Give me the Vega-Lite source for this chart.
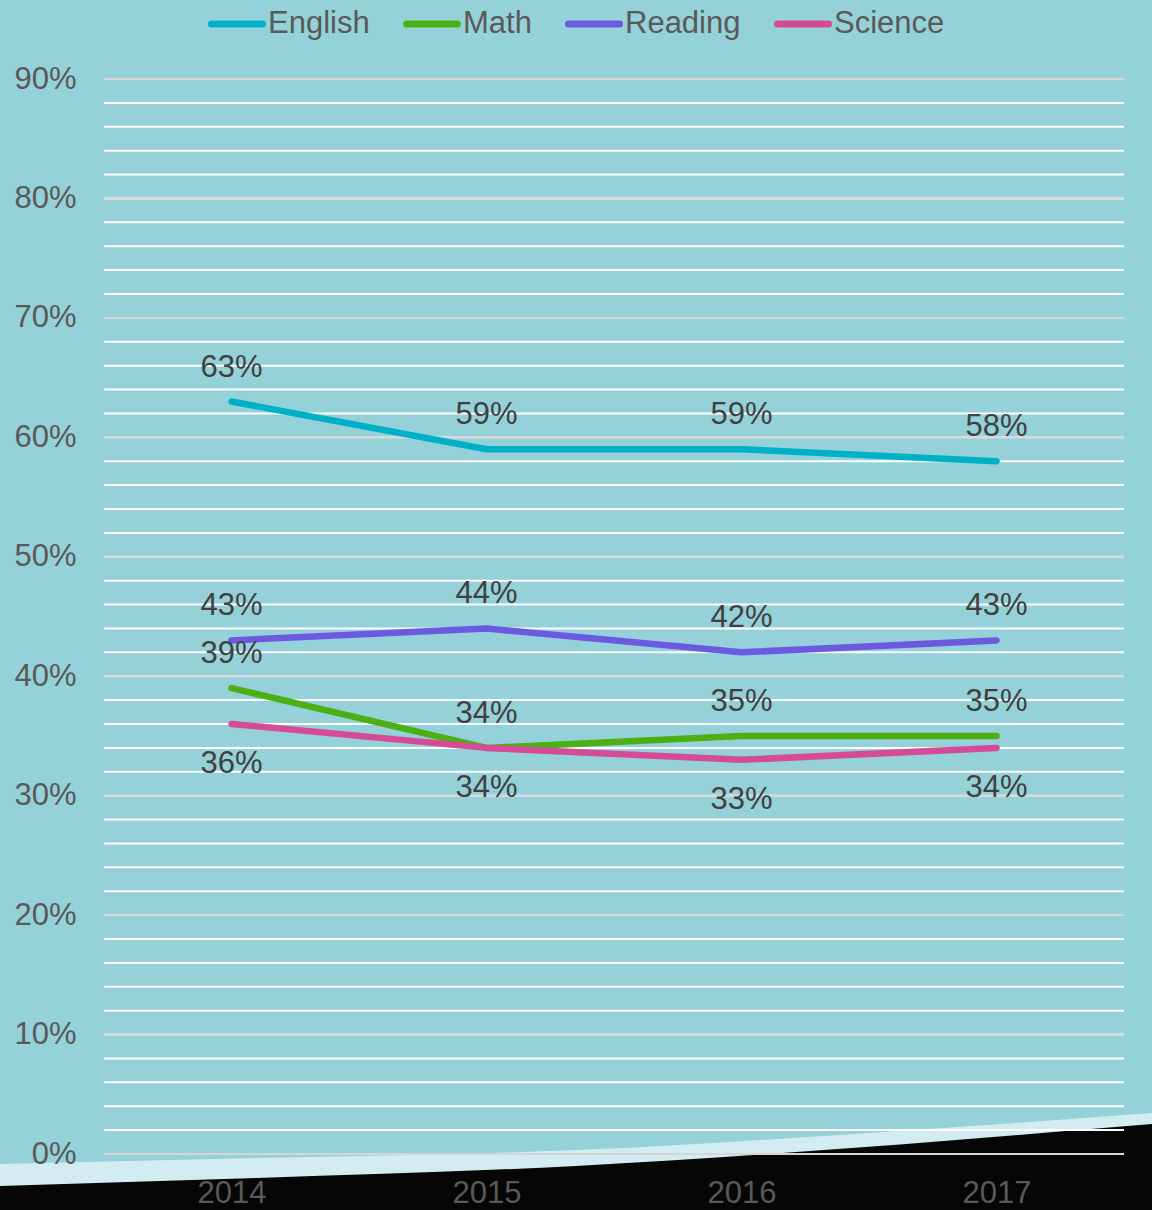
{
  "$schema": "https://vega.github.io/schema/vega-lite/v6.json",
  "width": 1020,
  "height": 1075,
  "autosize": {"type": "none"},
  "padding": {"left": 104, "top": 79, "right": 28, "bottom": 56},
  "background": "#95D1D9",
  "config": {
    "view": {"stroke": null},
    "font": "Liberation Sans"
  },
  "datasets": {
    "scores": [
      {"Year": 2014, "Subject": "English", "Value": 0.63},
      {"Year": 2015, "Subject": "English", "Value": 0.59},
      {"Year": 2016, "Subject": "English", "Value": 0.59},
      {"Year": 2017, "Subject": "English", "Value": 0.58},
      {"Year": 2014, "Subject": "Math", "Value": 0.39},
      {"Year": 2015, "Subject": "Math", "Value": 0.34},
      {"Year": 2016, "Subject": "Math", "Value": 0.35},
      {"Year": 2017, "Subject": "Math", "Value": 0.35},
      {"Year": 2014, "Subject": "Reading", "Value": 0.43},
      {"Year": 2015, "Subject": "Reading", "Value": 0.44},
      {"Year": 2016, "Subject": "Reading", "Value": 0.42},
      {"Year": 2017, "Subject": "Reading", "Value": 0.43},
      {"Year": 2014, "Subject": "Science", "Value": 0.36},
      {"Year": 2015, "Subject": "Science", "Value": 0.34},
      {"Year": 2016, "Subject": "Science", "Value": 0.33},
      {"Year": 2017, "Subject": "Science", "Value": 0.34}
    ],
    "band": [
      {"x": 2013.09, "top": -0.0084, "bottom": -0.06},
      {"x": 2014.1, "top": -0.0033, "bottom": -0.06},
      {"x": 2015.35, "top": 0.0033, "bottom": -0.06},
      {"x": 2016.5, "top": 0.0176, "bottom": -0.06},
      {"x": 2017.61, "top": 0.0343, "bottom": -0.06}
    ],
    "base": [
      {"x": 2013.09, "top": -0.0268, "bottom": -0.06},
      {"x": 2014.1, "top": -0.0201, "bottom": -0.06},
      {"x": 2015.35, "top": -0.01, "bottom": -0.06},
      {"x": 2016.16, "top": 0.0008, "bottom": -0.06},
      {"x": 2017.37, "top": 0.0209, "bottom": -0.06},
      {"x": 2017.61, "top": 0.0251, "bottom": -0.06}
    ],
    "minor": [
      {"v": 0.0}, {"v": 0.02}, {"v": 0.04}, {"v": 0.06}, {"v": 0.08},
      {"v": 0.1}, {"v": 0.12}, {"v": 0.14}, {"v": 0.16}, {"v": 0.18},
      {"v": 0.2}, {"v": 0.22}, {"v": 0.24}, {"v": 0.26}, {"v": 0.28},
      {"v": 0.3}, {"v": 0.32}, {"v": 0.34}, {"v": 0.36}, {"v": 0.38},
      {"v": 0.4}, {"v": 0.42}, {"v": 0.44}, {"v": 0.46}, {"v": 0.48},
      {"v": 0.5}, {"v": 0.52}, {"v": 0.54}, {"v": 0.56}, {"v": 0.58},
      {"v": 0.6}, {"v": 0.62}, {"v": 0.64}, {"v": 0.66}, {"v": 0.68},
      {"v": 0.7}, {"v": 0.72}, {"v": 0.74}, {"v": 0.76}, {"v": 0.78},
      {"v": 0.8}, {"v": 0.82}, {"v": 0.84}, {"v": 0.86}, {"v": 0.88},
      {"v": 0.9}
    ],
    "major": [
      {"v": 0.0}, {"v": 0.1}, {"v": 0.2}, {"v": 0.3}, {"v": 0.4},
      {"v": 0.5}, {"v": 0.6}, {"v": 0.7}, {"v": 0.8}, {"v": 0.9}
    ]
  },
  "layer": [
    {
      "data": {"name": "band"},
      "mark": {"type": "area", "color": "#D2ECF1", "interpolate": "monotone", "clip": false},
      "encoding": {
        "x": {"field": "x", "type": "quantitative", "scale": {"domain": [2013.5, 2017.5], "nice": false, "zero": false},
          "axis": {"values": [2014, 2015, 2016, 2017], "format": "d", "grid": false, "ticks": false, "tickSize": 0, "domain": false,
            "labelFontSize": 31, "labelColor": "#595959", "labelPadding": 24, "title": null, "zindex": 1, "labelFlush": false}},
        "y": {"field": "top", "type": "quantitative", "scale": {"domain": [0, 0.9], "nice": false, "zero": false},
          "axis": {"values": [0, 0.1, 0.2, 0.3, 0.4, 0.5, 0.6, 0.7, 0.8, 0.9], "format": ".0%", "grid": false, "ticks": false, "tickSize": 0, "domain": false,
            "labelFontSize": 31, "labelColor": "#595959", "labelPadding": 28, "title": null, "zindex": 1, "labelFlush": false}},
        "y2": {"field": "bottom"}
      }
    },
    {
      "data": {"name": "base"},
      "mark": {"type": "area", "color": "#060606", "interpolate": "monotone", "clip": false},
      "encoding": {
        "x": {"field": "x", "type": "quantitative"},
        "y": {"field": "top", "type": "quantitative"},
        "y2": {"field": "bottom"}
      }
    },
    {
      "data": {"name": "minor"},
      "mark": {"type": "rule", "color": "#FFFFFF", "strokeWidth": 2},
      "encoding": {"y": {"field": "v", "type": "quantitative"}}
    },
    {
      "data": {"name": "major"},
      "mark": {"type": "rule", "color": "#D6D6D6", "strokeWidth": 2},
      "encoding": {"y": {"field": "v", "type": "quantitative"}}
    },
    {
      "data": {"name": "scores"},
      "mark": {"type": "line", "strokeWidth": 6.5, "strokeCap": "round", "strokeJoin": "round"},
      "encoding": {
        "x": {"field": "Year", "type": "quantitative"},
        "y": {"field": "Value", "type": "quantitative"},
        "color": {
          "field": "Subject", "type": "nominal",
          "scale": {"domain": ["English", "Math", "Reading", "Science"], "range": ["#00B0C6", "#4CAF14", "#6B5AE0", "#D64B98"]},
          "legend": {
            "title": null, "orient": "none", "direction": "horizontal", "legendX": 104, "legendY": -84,
            "padding": 0, "symbolType": "stroke", "symbolSize": 2601, "symbolStrokeWidth": 7,
            "labelFontSize": 31, "labelColor": "#595959", "labelOffset": 2, "columnPadding": 22,
            "labelLimit": 300,
            "encode": {"symbols": {"update": {"strokeCap": {"value": "round"}}}}
          }
        }
      }
    },
    {
      "data": {"name": "scores"},
      "transform": [{"filter": "datum.Subject !== 'Science'"}],
      "mark": {"type": "text", "fontSize": 31, "color": "#404040", "dy": -34, "baseline": "middle"},
      "encoding": {
        "x": {"field": "Year", "type": "quantitative"},
        "y": {"field": "Value", "type": "quantitative"},
        "text": {"field": "Value", "type": "quantitative", "format": ".0%"}
      }
    },
    {
      "data": {"name": "scores"},
      "transform": [{"filter": "datum.Subject === 'Science'"}],
      "mark": {"type": "text", "fontSize": 31, "color": "#404040", "dy": 40, "baseline": "middle"},
      "encoding": {
        "x": {"field": "Year", "type": "quantitative"},
        "y": {"field": "Value", "type": "quantitative"},
        "text": {"field": "Value", "type": "quantitative", "format": ".0%"}
      }
    }
  ]
}
